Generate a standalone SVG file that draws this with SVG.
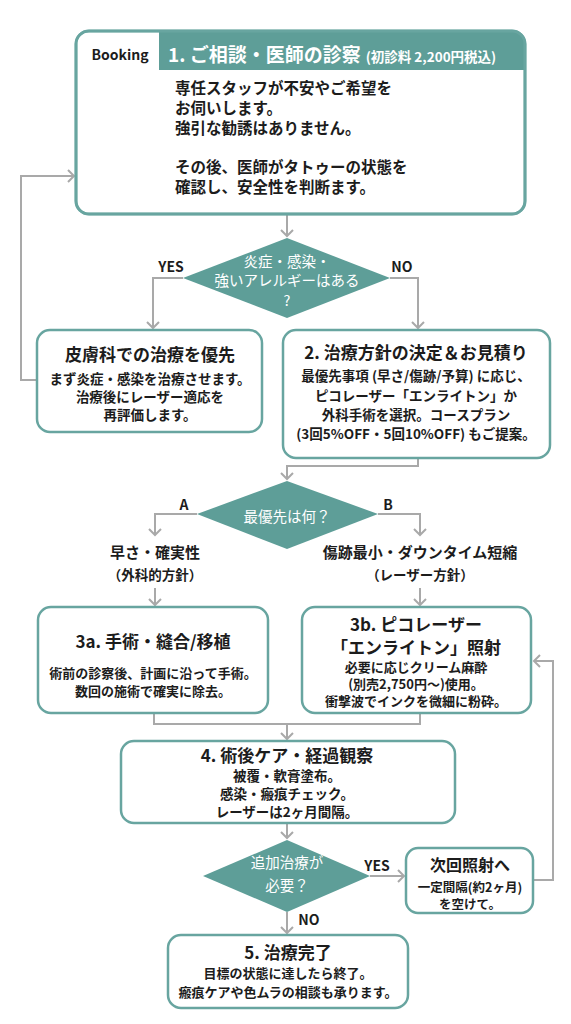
<svg xmlns="http://www.w3.org/2000/svg" width="571" height="1024" viewBox="0 0 571 1024">
<defs>
<style>
.box{fill:#fff;stroke:#68a5a0;stroke-width:2.5}
.dia{fill:#5e9e98}
.con{fill:none;stroke:#a9a9a9;stroke-width:2}
.t{font-family:"Noto Sans CJK JP","Noto Sans",sans-serif;fill:#1c1c1c;font-weight:700;text-anchor:middle}
.ttl{font-size:17px}
.bd{font-size:13.5px}
.w{fill:#fff;font-weight:400;font-size:14.5px}
.lbl{font-size:14px}
</style>
<marker id="ah" markerUnits="userSpaceOnUse" markerWidth="14" markerHeight="14" refX="7" refY="7" orient="auto">
<path d="M1,1 L7,7 L1,13" fill="none" stroke="#a9a9a9" stroke-width="2"/>
</marker>
</defs>
<rect width="571" height="1024" fill="#fff"/>

<g id="connectors" class="con">
<path d="M287,214 V236" marker-end="url(#ah)"/>
<path d="M183,278 H153 V328" marker-end="url(#ah)"/>
<path d="M390,278 H418 V328" marker-end="url(#ah)"/>
<path d="M37,380 H21 V176 H74" marker-end="url(#ah)"/>
<path d="M418,458 V466 H287 V479" marker-end="url(#ah)"/>
<path d="M197,514 H155 V535" marker-end="url(#ah)"/>
<path d="M378,514 H420 V535" marker-end="url(#ah)"/>
<path d="M155,588 V605" marker-end="url(#ah)"/>
<path d="M420,588 V605" marker-end="url(#ah)"/>
<path d="M154,713 V724 H420 V713"/>
<path d="M287,724 V739" marker-end="url(#ah)"/>
<path d="M533,880 H553 V661 H534" marker-end="url(#ah)"/>
<path d="M287,823 V838" marker-end="url(#ah)"/>
<path d="M370,876 H404" marker-end="url(#ah)"/>
<path d="M287,912 V933" marker-end="url(#ah)"/>
</g>

<g id="n1">
<rect class="box" x="76" y="31" width="449" height="183" rx="13" stroke-width="3"/>
<path d="M159,31 H512 A13,13 0 0 1 525,44 V70 H159 Z" fill="#5e9e98"/>
<rect x="76" y="31" width="449" height="183" rx="13" fill="none" stroke="#68a5a0" stroke-width="3"/>
<text class="t" x="120" y="60" font-size="14">Booking</text>
<text class="t" x="168" y="62" style="fill:#fff;text-anchor:start" font-size="19">1. ご相談・医師の診察<tspan font-size="13.5" dx="5">(初診料 2,200円税込)</tspan></text>
<g class="t" style="text-anchor:start" font-size="15.5">
<text x="175" y="94">専任スタッフが不安やご希望を</text>
<text x="175" y="114">お伺いします。</text>
<text x="175" y="134">強引な勧誘はありません。</text>
<text x="175" y="173">その後、医師がタトゥーの状態を</text>
<text x="175" y="193">確認し、安全性を判断ます。</text>
</g>
</g>

<g id="d1">
<polygon class="dia" points="287,238 390,278 287,318 183,278"/>
<text class="t w" x="287" y="267">炎症・感染・</text>
<text class="t w" x="287" y="286">強いアレルギーはある</text>
<text class="t w" x="287" y="306" font-size="13">?</text>
<text class="t lbl" x="171" y="272">YES</text>
<text class="t lbl" x="402" y="272">NO</text>
</g>

<g id="nderm">
<rect class="box" x="37" y="330" width="225" height="102" rx="13"/>
<text class="t ttl" x="150" y="361">皮膚科での治療を優先</text>
<text class="t bd" x="150" y="384">まず炎症・感染を治療させます。</text>
<text class="t bd" x="150" y="402">治療後にレーザー適応を</text>
<text class="t bd" x="150" y="420">再評価します。</text>
</g>

<g id="n2">
<rect class="box" x="283" y="330" width="267" height="128" rx="13"/>
<text class="t ttl" x="416" y="359">2. 治療方針の決定＆お見積り</text>
<text class="t bd" x="416" y="381">最優先事項 (早さ/傷跡/予算) に応じ、</text>
<text class="t bd" x="416" y="401">ピコレーザー「エンライトン」か</text>
<text class="t bd" x="416" y="420">外科手術を選択。コースプラン</text>
<text class="t bd" x="416" y="439">(3回5%OFF・5回10%OFF) もご提案。</text>
</g>

<g id="d2">
<polygon class="dia" points="287,481 378,514 287,549 197,514"/>
<text class="t w" x="287" y="522" font-size="15">最優先は何？</text>
<text class="t lbl" x="184" y="510">A</text>
<text class="t lbl" x="388" y="510">B</text>
</g>

<g id="lblA">
<text class="t" x="155" y="558" font-size="15">早さ・確実性</text>
<text class="t" x="155" y="580" font-size="13.5">（外科的方針）</text>
</g>
<g id="lblB">
<text class="t" x="420" y="558" font-size="15">傷跡最小・ダウンタイム短縮</text>
<text class="t" x="420" y="580" font-size="13.5">（レーザー方針）</text>
</g>

<g id="n3a">
<rect class="box" x="38" y="607" width="230" height="106" rx="13"/>
<text class="t ttl" x="153" y="648">3a. 手術・縫合/移植</text>
<text class="t" x="153" y="678" font-size="13">術前の診察後、計画に沿って手術。</text>
<text class="t" x="153" y="696" font-size="13">数回の施術で確実に除去。</text>
</g>

<g id="n3b">
<rect class="box" x="302" y="607" width="229" height="106" rx="13"/>
<text class="t ttl" x="416" y="631">3b. ピコレーザー</text>
<text class="t ttl" x="416" y="654">「エンライトン」照射</text>
<text class="t" x="416" y="672" font-size="13">必要に応じクリーム麻酔</text>
<text class="t" x="416" y="689" font-size="13">(別売2,750円〜)使用。</text>
<text class="t" x="416" y="706" font-size="13">衝撃波でインクを微細に粉砕。</text>
</g>

<g id="n4">
<rect class="box" x="121" y="741" width="334" height="82" rx="13"/>
<text class="t ttl" x="287" y="762">4. 術後ケア・経過観察</text>
<text class="t bd" x="287" y="781">被覆・軟膏塗布。</text>
<text class="t bd" x="287" y="799">感染・瘢痕チェック。</text>
<text class="t bd" x="287" y="817">レーザーは2ヶ月間隔。</text>
</g>

<g id="d3">
<polygon class="dia" points="287,840 370,876 287,912 203,876"/>
<text class="t w" x="287" y="868">追加治療が</text>
<text class="t w" x="287" y="891">必要？</text>
<text class="t lbl" x="377" y="871">YES</text>
<text class="t lbl" x="309" y="925">NO</text>
</g>

<g id="nnext">
<rect class="box" x="406" y="848" width="127" height="65" rx="12"/>
<text class="t" x="470" y="871" font-size="16">次回照射へ</text>
<text class="t" x="470" y="892" font-size="12.5">一定間隔(約2ヶ月)</text>
<text class="t" x="470" y="909" font-size="12.5">を空けて。</text>
</g>

<g id="n5">
<rect class="box" x="168" y="935" width="240" height="73" rx="13"/>
<text class="t ttl" x="288" y="959">5. 治療完了</text>
<text class="t" x="288" y="978" font-size="13">目標の状態に達したら終了。</text>
<text class="t" x="288" y="997" font-size="13">瘢痕ケアや色ムラの相談も承ります。</text>
</g>
</svg>
